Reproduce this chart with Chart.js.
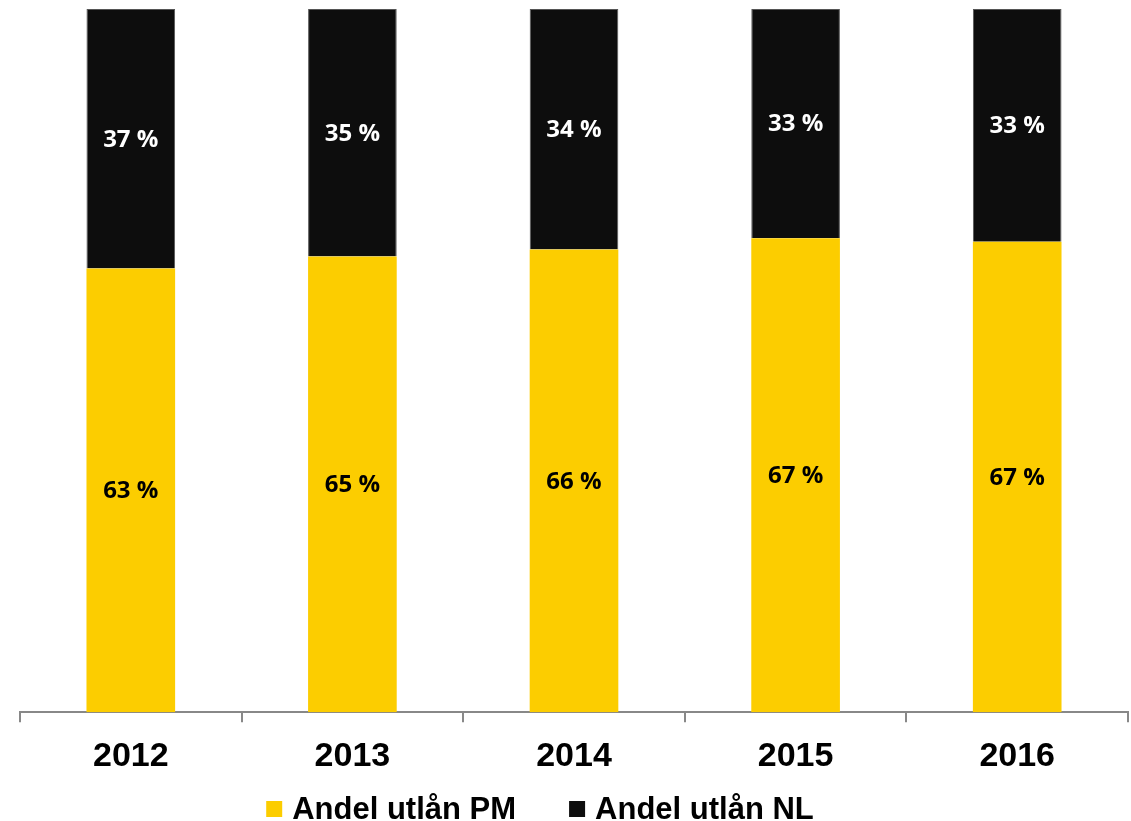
<!DOCTYPE html>
<html>
<head>
<meta charset="utf-8">
<script src="https://cdn.jsdelivr.net/npm/chart.js@4/dist/chart.umd.min.js"></script>
<style>
  html, body { margin: 0; padding: 0; background: #fff; }
  #wrap { width: 1131px; height: 821px; }
</style>
</head>
<body>
<div id="wrap"><canvas id="myChart" width="1131" height="821"></canvas></div>
<script>
var years = ['2012', '2013', '2014', '2015', '2016'];
var andelPM = [63.1, 64.8, 65.8, 67.4, 66.9];
var andelNL = [36.9, 35.2, 34.2, 32.6, 33.1];
var seriesNames = ['Andel utlån PM', 'Andel utlån NL'];
var seriesColors = ['#FCCD00', '#0D0D0D'];
var labelColors = ['#000000', '#FFFFFF'];

// percent labels in the middle of each segment
var segmentLabels = {
    id: 'segmentLabels',
    afterDatasetsDraw: function(chart) {
        var ctx = chart.ctx;
        ctx.save();
        ctx.font = 'bold 24px "Open Sans"';
        ctx.textAlign = 'center';
        ctx.textBaseline = 'middle';
        chart.data.datasets.forEach(function(ds, i) {
            var meta = chart.getDatasetMeta(i);
            ctx.fillStyle = labelColors[i];
            meta.data.forEach(function(bar, j) {
                var y = (bar.y + bar.base) / 2 + 1;
                ctx.fillText(Math.round(ds.data[j]) + ' %', bar.x, y);
            });
        });
        ctx.restore();
    }
};

// legend under the axis labels
var bottomLegend = {
    id: 'bottomLegend',
    afterDraw: function(chart) {
        var ctx = chart.ctx;
        ctx.save();
        ctx.font = 'bold 31px "Liberation Sans"';
        ctx.textBaseline = 'middle';
        var box = 16, gap = 10, space = 53;
        var total = 0;
        chart.data.datasets.forEach(function(ds, i) {
            total += box + gap + ctx.measureText(ds.label).width;
            if (i > 0) total += space;
        });
        var x = 540 - total / 2;
        var y = 809;
        chart.data.datasets.forEach(function(ds) {
            ctx.fillStyle = ds.backgroundColor;
            ctx.fillRect(x, y - box / 2, box, box);
            x += box + gap;
            ctx.fillStyle = '#000';
            ctx.fillText(ds.label, x, y + 1);
            x += ctx.measureText(ds.label).width + space;
        });
        ctx.restore();
    }
};

var config = {
    type: 'bar',
    data: {
        labels: years,
        datasets: [{
            label: seriesNames[0],
            data: andelPM,
            backgroundColor: seriesColors[0],
            categoryPercentage: 1,
            barPercentage: 0.4
        }, {
            label: seriesNames[1],
            data: andelNL,
            backgroundColor: seriesColors[1],
            borderColor: '#555',
            borderWidth: 1,
            categoryPercentage: 1,
            barPercentage: 0.4
        }]
    },
    options: {
        responsive: false,
        animation: false,
        layout: { padding: { left: 20, right: 3, top: 9, bottom: 29 } },
        plugins: {
            legend: { display: false },
            tooltip: { enabled: false }
        },
        scales: {
            x: {
                stacked: true,
                grid: {
                    offset: true,
                    drawOnChartArea: false,
                    drawTicks: true,
                    tickLength: 10,
                    color: '#888',
                    lineWidth: 2
                },
                border: { display: true, color: '#888', width: 2 },
                ticks: {
                    color: '#000',
                    padding: 14.5,
                    font: { family: '"Liberation Sans"', size: 34, weight: 'bold' }
                }
            },
            y: {
                stacked: true,
                display: false,
                min: 0,
                max: 100
            }
        }
    },
    plugins: [segmentLabels, bottomLegend]
};

window.onload = function() {
    var ctx = document.getElementById('myChart').getContext('2d');
    window.myBar = new Chart(ctx, config);
};
</script>
</body>
</html>
